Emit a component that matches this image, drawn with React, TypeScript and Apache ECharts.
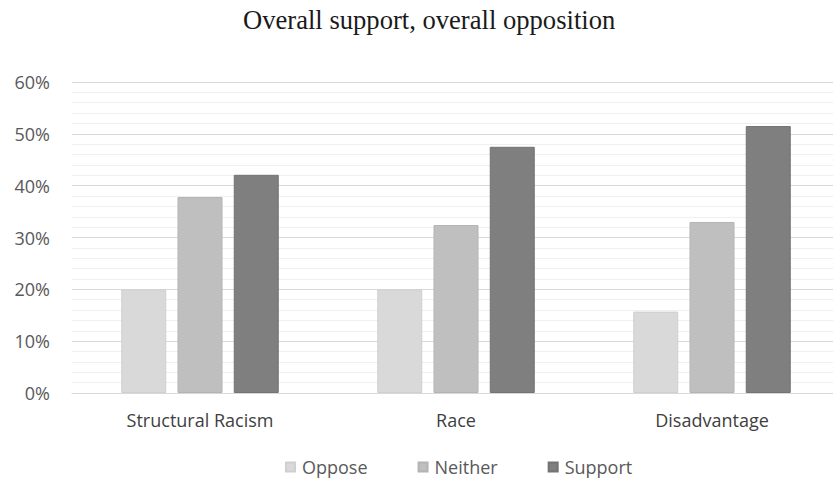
import React, { useEffect, useRef } from "react";
import * as echarts from "echarts";

const categories = ["Structural Racism", "Race", "Disadvantage"];
const opposeValues = [20.0, 20.0, 15.7];
const neitherValues = [37.8, 32.4, 33.0];
const supportValues = [42.1, 47.5, 51.5];
const seriesNames = ["Oppose", "Neither", "Support"];

export default function App() {
  const ref = useRef<HTMLDivElement>(null);
  useEffect(() => {
    if (!ref.current) return;
    const chart = echarts.init(ref.current, null, { renderer: "svg" });
    const font = "'Open Sans', sans-serif";
    const colors = ["#d9d9d9", "#bfbfbf", "#7f7f7f"];
    const borders = ["#cfcfcf", "#b3b3b3", "#737373"];
    const data = [opposeValues, neitherValues, supportValues];
    chart.setOption({
      animation: false,
      backgroundColor: "#ffffff",
      title: {
        text: "Overall support, overall opposition",
        left: 238,
        top: 1,
        textStyle: {
          fontFamily: "'Liberation Serif', serif",
          fontSize: 26.6,
          fontWeight: "normal",
          color: "#1a1a1a",
        },
      },
      legend: {
        top: 453,
        left: 280,
        itemWidth: 9,
        itemHeight: 9,
        itemGap: 50,
        icon: "rect",
        textStyle: { fontFamily: font, fontSize: 18, color: "#595959", padding: [0, 0, 0, 2] },
        data: seriesNames,
      },
      grid: {
        left: 72,
        top: 82,
        width: 768,
        height: 311,
        containLabel: false,
        outerBoundsMode: "none",
      },
      xAxis: {
        type: "category",
        data: categories,
        axisLine: { show: true, lineStyle: { color: "#d9d9d9", width: 1 } },
        axisTick: { show: false },
        axisLabel: { fontFamily: font, fontSize: 18, color: "#404040", margin: 18 },
      },
      yAxis: {
        type: "value",
        min: 0,
        max: 60,
        interval: 10,
        axisLine: { show: false },
        axisTick: { show: false },
        axisLabel: {
          formatter: "{value}%",
          fontFamily: font,
          fontSize: 18,
          color: "#595959",
          margin: 22,
        },
        splitLine: { show: true, lineStyle: { color: "#d9d9d9", width: 1 } },
        minorTick: { show: false, splitNumber: 5 },
        minorSplitLine: { show: true, lineStyle: { color: "#efefef", width: 1 } },
      },
      series: seriesNames.map((name, i) => ({
        name,
        type: "bar",
        data: data[i],
        barWidth: 45,
        barGap: "25%",
        itemStyle: { color: colors[i], borderColor: borders[i], borderWidth: 1 },
      })),
    });
    return () => chart.dispose();
  }, []);
  return (
    <div
      ref={ref}
      style={{ position: "fixed", left: 0, top: 0, width: 833, height: 482 }}
    />
  );
}
